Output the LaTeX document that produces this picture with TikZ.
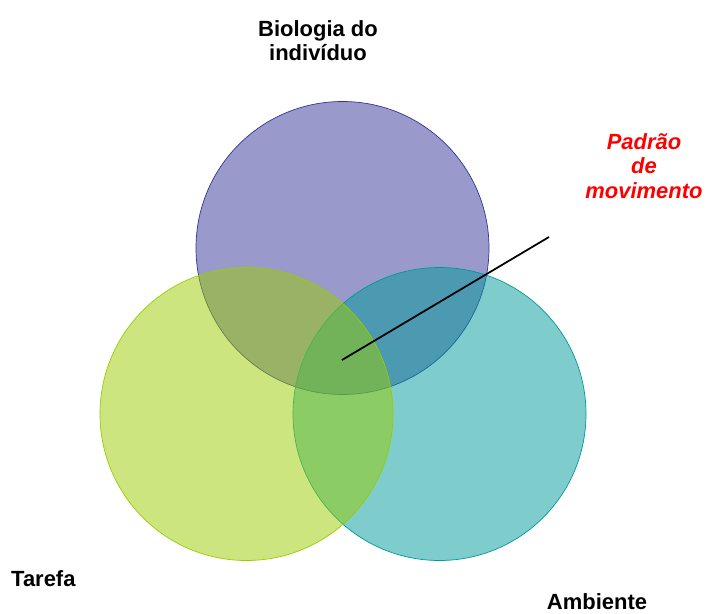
\documentclass[tikz,border=0pt]{standalone}
\usepackage{fontspec}
\setmainfont{Liberation Sans}
\usepackage{xcolor}
\usetikzlibrary{positioning, calc}

\definecolor{bioblue}{HTML}{333399}
\definecolor{taskgreen}{HTML}{99CC00}
\definecolor{envteal}{HTML}{009999}

\begin{document}
\begin{tikzpicture}[
    set/.style={fill opacity=0.5, draw opacity=1, line width=0.5pt},
    label/.style={font=\fontsize{12.5}{14}\selectfont\bfseries, align=center}
]
\useasboundingbox (0,0) rectangle (14.12,12.26);

% Biologia
\fill[bioblue, set] (6.85,7.30) circle (2.93);
\draw[bioblue] (6.85,7.30) circle (2.93);
% Ambiente
\fill[envteal, set] (8.79,3.98) circle (2.93);
\draw[envteal] (8.79,3.98) circle (2.93);
% Tarefa
\fill[taskgreen, set] (4.93,3.98) circle (2.93);
\draw[taskgreen] (4.93,3.98) circle (2.93);

% Labels
\node[label] (bio) at (6.36,11.45) {Biologia do\\indivíduo};
\node[label, anchor=west] (task) at (0.1,0.69) {Tarefa};
\node[label] (env) at (11.94,0.22) {Ambiente};
\node[label, text=red, font=\fontsize{12.5}{14}\selectfont\bfseries\itshape] (pattern) at (12.88,8.94) {Padrão\\de\\movimento};

% Pointer
\coordinate (centre) at (6.84,5.06);
\coordinate (tip) at (10.98,7.52);
\draw[line width=1pt] (centre) -- (tip);
\end{tikzpicture}
\end{document}
